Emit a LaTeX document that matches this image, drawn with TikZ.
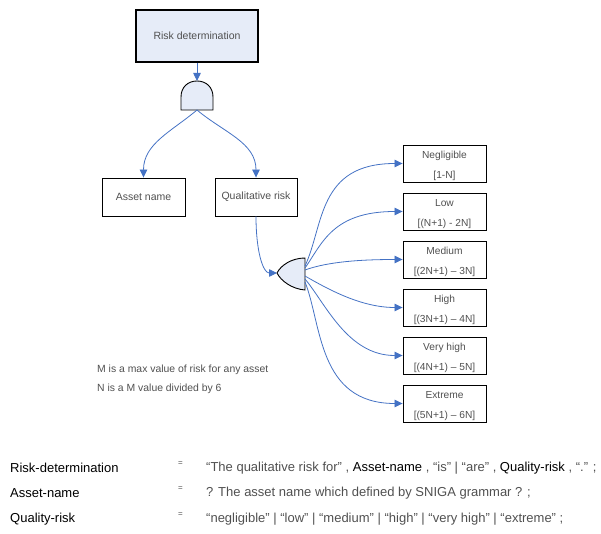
\documentclass[tikz,border=0pt]{standalone}
\usepackage{fontspec}
\setmainfont{Liberation Sans}
\usepackage{xcolor}
\usetikzlibrary{arrows.meta, positioning}

\definecolor{flowblue}{RGB}{68,114,196}
\definecolor{gatefill}{RGB}{230,236,248}
\definecolor{textgray}{RGB}{80,80,80}

\tikzset{
    box/.style={draw=black, line width=0.9pt, minimum width=83pt, minimum height=38pt,
        inner sep=2pt, text=textgray, font=\fontsize{10.5}{13}\selectfont},
    levelbox/.style={box, minimum height=37pt, inner ysep=0pt, align=center,
        font=\fontsize{10.2}{20}\selectfont, text height=33pt, text depth=2.6pt},
    flow/.style={draw=flowblue, line width=0.8pt, -{Triangle[length=8pt,width=7.5pt]}},
    gate/.style={draw=black, line width=0.9pt, fill=gatefill},
    note/.style={anchor=west, inner sep=0pt, text=textgray, font=\fontsize{10.4}{12}\selectfont},
    rule/.style={anchor=west, inner sep=0pt, text=textgray, font=\fontsize{13}{15}\selectfont},
}

\begin{document}
\begin{tikzpicture}[x=1pt, y=1pt]
    \useasboundingbox (0,0) rectangle (601,-534);

    % =================================================================
    % 1. TỌA ĐỘ CÁC CỔNG AND / OR
    % =================================================================
    \coordinate (AndTop) at (197,-81);
    \coordinate (AndBot) at (197,-110);
    \coordinate (OrTip) at (277,-273);

    % Các điểm ra phía phải cổng OR
    \coordinate (OrOutA) at (305,-266);
    \coordinate (OrOutB) at (305,-268);
    \coordinate (OrOutC) at (305,-270);
    \coordinate (OrOutD) at (305,-276);
    \coordinate (OrOutE) at (305,-279);
    \coordinate (OrOutF) at (305,-282);

    % =================================================================
    % 2. CÁC HỘP CHÍNH
    % =================================================================
    \node[box, fill=gatefill, line width=1.7pt, minimum width=122pt, minimum height=52pt]
        (Risk) at (197,-36) {Risk determination};
    \node[box] (Asset) at (143.5,-197) {Asset name};
    \node[box, minimum width=82pt] (Qual) at (256,-197) {Qualitative risk};

    % Sáu mức rủi ro
    \node[levelbox] (Negl) at (444.5,-163.5) {Negligible\\{[1-N]}};
    \node[levelbox] (Low) at (444.5,-211.5) {Low\\{[(N+1) - 2N]}};
    \node[levelbox] (Med) at (444.5,-259.5) {Medium\\{[(2N+1) – 3N]}};
    \node[levelbox] (High) at (444.5,-307.5) {High\\{[(3N+1) – 4N]}};
    \node[levelbox] (VHigh) at (444.5,-355.5) {Very high\\{[(4N+1) – 5N]}};
    \node[levelbox] (Extr) at (444.5,-403.5) {Extreme\\{[(5N+1) – 6N]}};

    % =================================================================
    % 3. VẼ CỔNG AND VÀ CỔNG OR
    % =================================================================
    \draw[gate] (181,-110) -- (181,-97)
        .. controls (181,-87) and (188,-81) .. (197,-81)
        .. controls (206,-81) and (213,-87) .. (213,-97) -- (213,-110) -- cycle;

    \draw[gate] (305,-258) -- (305,-290)
        .. controls (292,-289) and (281,-281) .. (277,-273)
        .. controls (281,-265) and (292,-258) .. (305,-258) -- cycle;

    % =================================================================
    % 4. CÁC ĐƯỜNG NỐI
    % =================================================================
    \draw[flow] (Risk.south) -- (AndTop);
    \draw[flow] (AndBot) to[out=-140, in=90] (Asset.north);
    \draw[flow] (AndBot) to[out=-40, in=90] (Qual.north);

    \draw[flow] (Qual.south) to[out=-90, in=180, out distance=35pt, in distance=14pt] (OrTip);

    \draw[flow] (OrOutA) to[out=65, in=180, out distance=45pt, in distance=85pt] (Negl.west);
    \draw[flow] (OrOutB) to[out=55, in=180, out distance=30pt, in distance=70pt] (Low.west);
    \draw[flow] (OrOutC) to[out=20, in=180, out distance=25pt, in distance=40pt] (Med.west);
    \draw[flow] (OrOutD) to[out=-30, in=180, out distance=30pt, in distance=40pt] (High.west);
    \draw[flow] (OrOutE) to[out=-50, in=180, out distance=32pt, in distance=55pt] (VHigh.west);
    \draw[flow] (OrOutF) to[out=-68, in=180, out distance=45pt, in distance=85pt] (Extr.west);

    % =================================================================
    % 5. GHI CHÚ VÀ CÁC LUẬT VĂN PHẠM
    % =================================================================
    \node[note] (NoteM) at (97,-370) {M is a max value of risk for any asset};
    \node[note] (NoteN) at (97,-389) {N is a M value divided by 6};

    \node[rule, text=black] (RuleA) at (10,-468) {Risk-determination};
    \node[rule, text=black] (RuleB) at (10,-493) {Asset-name};
    \node[rule, text=black] (RuleC) at (10,-519) {Quality-risk};

    \node[rule, font=\fontsize{8}{9}\selectfont] (EqA) at (178,-464) {=};
    \node[rule, font=\fontsize{8}{9}\selectfont] (EqB) at (178,-489) {=};
    \node[rule, font=\fontsize{8}{9}\selectfont] (EqC) at (178,-515) {=};

    \node[rule] (DefA) at (206,-468)
        {“The qualitative risk for” , \textcolor{black}{Asset-name} , “is” | “are” , \textcolor{black}{Quality-risk} , “.” ;};
    \node[rule] (DefB) at (206,-493) {? The asset name which defined by SNIGA grammar ? ;};
    \node[rule] (DefC) at (206,-519)
        {“negligible” | “low” | “medium” | “high” | “very high” | “extreme” ;};

\end{tikzpicture}
\end{document}
